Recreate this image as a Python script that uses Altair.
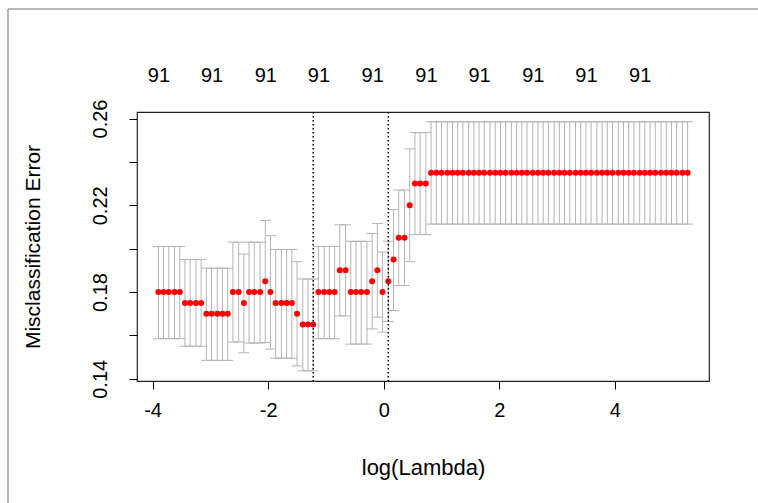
import altair as alt
import pandas as pd

# log(lambda) values (left to right)
log_lambda = [
    -3.90, -3.81, -3.72, -3.62, -3.53, -3.44, -3.35, -3.25, -3.16, -3.07,
    -2.98, -2.88, -2.79, -2.70, -2.61, -2.51, -2.42, -2.33, -2.24, -2.14,
    -2.05, -1.96, -1.87, -1.77, -1.68, -1.59, -1.50, -1.40, -1.31, -1.22,
    -1.13, -1.03, -0.94, -0.85, -0.76, -0.66, -0.57, -0.48, -0.39, -0.29,
    -0.20, -0.11, -0.02, 0.08, 0.17, 0.26, 0.36, 0.45, 0.54, 0.63,
    0.73, 0.82, 0.91, 1.00, 1.10, 1.19, 1.28, 1.37, 1.47, 1.56,
    1.65, 1.74, 1.84, 1.93, 2.02, 2.11, 2.21, 2.30, 2.39, 2.48,
    2.58, 2.67, 2.76, 2.85, 2.95, 3.04, 3.13, 3.22, 3.32, 3.41,
    3.50, 3.59, 3.69, 3.78, 3.87, 3.96, 4.06, 4.15, 4.24, 4.33,
    4.43, 4.52, 4.61, 4.70, 4.80, 4.89, 4.98, 5.07, 5.17, 5.26,
]

# mean cross-validated misclassification error
cvm = [
    0.18, 0.18, 0.18, 0.18, 0.18, 0.175, 0.175, 0.175, 0.175, 0.17,
    0.17, 0.17, 0.17, 0.17, 0.18, 0.18, 0.175, 0.18, 0.18, 0.18,
    0.185, 0.18, 0.175, 0.175, 0.175, 0.175, 0.17, 0.165, 0.165, 0.165,
    0.18, 0.18, 0.18, 0.18, 0.19, 0.19, 0.18, 0.18, 0.18, 0.18,
    0.185, 0.19, 0.18, 0.185, 0.195, 0.205, 0.205, 0.22, 0.23, 0.23,
    0.23, 0.235, 0.235, 0.235, 0.235, 0.235, 0.235, 0.235, 0.235, 0.235,
    0.235, 0.235, 0.235, 0.235, 0.235, 0.235, 0.235, 0.235, 0.235, 0.235,
    0.235, 0.235, 0.235, 0.235, 0.235, 0.235, 0.235, 0.235, 0.235, 0.235,
    0.235, 0.235, 0.235, 0.235, 0.235, 0.235, 0.235, 0.235, 0.235, 0.235,
    0.235, 0.235, 0.235, 0.235, 0.235, 0.235, 0.235, 0.235, 0.235, 0.235,
]

# upper curve (cvm + se)
cvup = [
    0.201, 0.201, 0.201, 0.201, 0.201, 0.195, 0.195, 0.195, 0.195, 0.191,
    0.191, 0.191, 0.191, 0.191, 0.203, 0.203, 0.1975, 0.203, 0.203, 0.203,
    0.213, 0.206, 0.1996, 0.1996, 0.1996, 0.1996, 0.194, 0.186, 0.186, 0.186,
    0.201, 0.201, 0.201, 0.201, 0.211, 0.211, 0.2034, 0.2034, 0.2034, 0.2034,
    0.207, 0.2116, 0.1985, 0.2034, 0.218, 0.227, 0.227, 0.246, 0.2535, 0.2535,
    0.2535, 0.2585, 0.2585, 0.2585, 0.2585, 0.2585, 0.2585, 0.2585, 0.2585, 0.2585,
    0.2585, 0.2585, 0.2585, 0.2585, 0.2585, 0.2585, 0.2585, 0.2585, 0.2585, 0.2585,
    0.2585, 0.2585, 0.2585, 0.2585, 0.2585, 0.2585, 0.2585, 0.2585, 0.2585, 0.2585,
    0.2585, 0.2585, 0.2585, 0.2585, 0.2585, 0.2585, 0.2585, 0.2585, 0.2585, 0.2585,
    0.2585, 0.2585, 0.2585, 0.2585, 0.2585, 0.2585, 0.2585, 0.2585, 0.2585, 0.2585,
]

# lower curve (cvm - se)
cvlo = [
    0.1585, 0.1585, 0.1585, 0.1585, 0.1585, 0.155, 0.155, 0.155, 0.155, 0.1485,
    0.1485, 0.1485, 0.1485, 0.1485, 0.157, 0.157, 0.152, 0.1565, 0.1565, 0.1565,
    0.1567, 0.1537, 0.1495, 0.1495, 0.1495, 0.1495, 0.146, 0.1437, 0.1437, 0.1437,
    0.1585, 0.1585, 0.1585, 0.1585, 0.169, 0.169, 0.156, 0.156, 0.156, 0.156,
    0.163, 0.1684, 0.1615, 0.1664, 0.1715, 0.183, 0.183, 0.194, 0.2065, 0.2065,
    0.2065, 0.2113, 0.2113, 0.2113, 0.2113, 0.2113, 0.2113, 0.2113, 0.2113, 0.2113,
    0.2113, 0.2113, 0.2113, 0.2113, 0.2113, 0.2113, 0.2113, 0.2113, 0.2113, 0.2113,
    0.2113, 0.2113, 0.2113, 0.2113, 0.2113, 0.2113, 0.2113, 0.2113, 0.2113, 0.2113,
    0.2113, 0.2113, 0.2113, 0.2113, 0.2113, 0.2113, 0.2113, 0.2113, 0.2113, 0.2113,
    0.2113, 0.2113, 0.2113, 0.2113, 0.2113, 0.2113, 0.2113, 0.2113, 0.2113, 0.2113,
]

# number of nonzero coefficients shown on the top axis
nz_label_index = [0, 10, 20, 30, 40, 50, 60, 70, 80, 90]
nz_labels = ["91", "91", "91", "91", "91", "91", "91", "91", "91", "91"]

lambda_min_index = 29
lambda_1se_index = 43

x_ticks = [-4, -2, 0, 2, 4]
y_ticks = [0.14, 0.16, 0.18, 0.20, 0.22, 0.24, 0.26]
y_labelled = [0.14, 0.18, 0.22, 0.26]

FONT = "Liberation Sans"
W, H = 572, 269
PAD_L, PAD_T = 137, 112
x_dom = [-4.27, 5.63]
y_dom = [0.139, 0.263]

df = pd.DataFrame({"x": log_lambda, "cvm": cvm, "cvup": cvup, "cvlo": cvlo})
barw = 0.01 * (max(log_lambda) - min(log_lambda))

xs = alt.Scale(domain=x_dom, nice=False, zero=False)
ys = alt.Scale(domain=y_dom, nice=False, zero=False)

y_label_expr = " || ".join(
    f"abs(datum.value - {v}) < 0.0001" for v in y_labelled
)
y_label_expr = f"({y_label_expr}) ? format(datum.value, '.2f') : ''"

x_axis = alt.Axis(
    values=x_ticks, labelExpr="'' + datum.value", tickSize=8, tickColor="black",
    tickWidth=1, domain=False, grid=False, labelFontSize=20, labelColor="black",
    labelFont=FONT, labelPadding=21, labelBaseline="middle",
    title="log(Lambda)", titleFontSize=22, titleFont=FONT,
    titleFontWeight="normal", titleColor="black", titleBaseline="middle",
    titleY=86,
)
y_axis = alt.Axis(
    values=y_ticks, labelExpr=y_label_expr, tickSize=8, tickColor="black",
    tickWidth=1, domain=False, grid=False, labelFontSize=20, labelColor="black",
    labelFont=FONT, labelAngle=270, labelAlign="center", labelBaseline="middle",
    labelPadding=29, title="Misclassification Error", titleFontSize=21,
    titleFont=FONT, titleFontWeight="normal", titleColor="black",
    titleBaseline="middle", titleX=-104,
)

top_x = [log_lambda[i] for i in nz_label_index]
top_expr = "''"
for xv, lab in reversed(list(zip(top_x, nz_labels))):
    top_expr = f"abs(datum.value - ({xv})) < 0.001 ? '{lab}' : ({top_expr})"
top_axis = alt.Axis(
    orient="top", values=top_x, labelExpr=top_expr, ticks=False, domain=False,
    grid=False, labelFontSize=20, labelFont=FONT, labelColor="black",
    labelBaseline="middle", labelPadding=37, title=None, labelFlush=False,
    labelOverlap=False,
)

base = alt.Chart(df)
GREY = "#B4B4B4"

bars = base.mark_rule(color=GREY, strokeWidth=1).encode(
    x=alt.X("x:Q", scale=xs, axis=x_axis),
    y=alt.Y("cvlo:Q", scale=ys, axis=y_axis),
    y2="cvup:Q",
)
caps_up = base.transform_calculate(
    xl=f"datum.x - {barw}", xr=f"datum.x + {barw}"
).mark_rule(color=GREY, strokeWidth=1).encode(
    x=alt.X("xl:Q", scale=xs, axis=None), x2="xr:Q",
    y=alt.Y("cvup:Q", scale=ys)
)
caps_lo = base.transform_calculate(
    xl=f"datum.x - {barw}", xr=f"datum.x + {barw}"
).mark_rule(color=GREY, strokeWidth=1).encode(
    x=alt.X("xl:Q", scale=xs, axis=None), x2="xr:Q",
    y=alt.Y("cvlo:Q", scale=ys)
)
dots = base.mark_circle(color="#FF0000", opacity=1, size=36).encode(
    x=alt.X("x:Q", scale=xs, axis=None), y=alt.Y("cvm:Q", scale=ys)
)

vdf = pd.DataFrame({"x": [log_lambda[lambda_min_index], log_lambda[lambda_1se_index]]})
vlines = alt.Chart(vdf).mark_rule(
    color="black", strokeDash=[1.5, 2.5], strokeWidth=1.5
).encode(x=alt.X("x:Q", scale=xs, axis=None))

tdf = pd.DataFrame({"x": top_x, "lab": nz_labels})
top = alt.Chart(tdf).mark_point(opacity=0).encode(
    x=alt.X("x:Q", scale=xs, axis=top_axis)
)

one = pd.DataFrame({"a": [0]})
frame_top = alt.Chart(one).mark_rule(color="#A0A0A0", strokeWidth=1.5).encode(
    x=alt.value(-129), x2=alt.value(621), y=alt.value(-103)
)
frame_left = alt.Chart(one).mark_rule(color="#A0A0A0", strokeWidth=1.5).encode(
    x=alt.value(-129), y=alt.value(-103), y2=alt.value(391)
)

chart = (
    alt.layer(bars, caps_up, caps_lo, dots, vlines, top, frame_top, frame_left)
    .resolve_axis(x="independent")
    .properties(
        width=W, height=H,
        autosize=alt.AutoSizeParams(type="none"),
        padding={"left": PAD_L, "top": PAD_T, "right": 758 - PAD_L - W, "bottom": 503 - PAD_T - H},
        background="white",
    )
    .configure_view(stroke="#222222", strokeWidth=1.2, fill="white")
)

chart.save("out.html", embed_options={"renderer": "svg", "actions": False})
